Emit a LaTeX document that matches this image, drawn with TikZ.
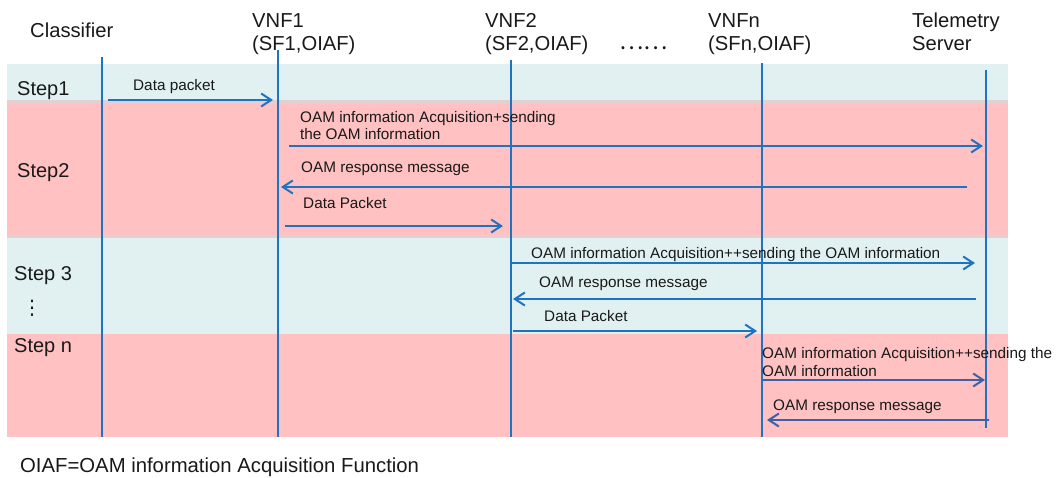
\documentclass[tikz,border=0pt]{standalone}
\usepackage{fontspec}
\setmainfont{Liberation Sans}
\newfontfamily\cjkfont{Noto Sans CJK SC}
\newfontfamily\symfont{DejaVu Sans}
\usetikzlibrary{arrows.meta}

\definecolor{bandcyan}{RGB}{225,241,242}
\definecolor{bandpink}{RGB}{255,193,193}
\definecolor{seam}{RGB}{226,208,210}
\definecolor{flow}{RGB}{30,115,195}
\definecolor{flowdark}{RGB}{62,96,166}
\definecolor{ink}{RGB}{25,25,25}

\begin{document}
\begin{tikzpicture}[x=1pt,y=-1pt,
  every node/.style={text=ink, inner sep=0pt, anchor=base west},
  hdr/.style={font=\fontsize{20.2}{24}\selectfont},
  steplbl/.style={font=\fontsize{20}{24}\selectfont},
  msg/.style={font=\fontsize{15.3}{18}\selectfont},
  lifeline/.style={draw=flow, line width=2pt},
  call/.style={draw=flow, line width=2pt, -{Straight Barb[length=10pt,width=13pt]}},
  calldark/.style={call, draw=flowdark},
]
\useasboundingbox (0,0) rectangle (1056,477);
\fill[white] (0,0) rectangle (1056,477);

% step bands
\fill[bandcyan] (7,64) rectangle (1008,101);
\fill[seam] (7,100) rectangle (1008,104);
\fill[bandpink] (7,104) rectangle (1008,235);
\fill[seam] (7,235) rectangle (1008,238);
\fill[bandcyan] (7,238) rectangle (1008,334);
\fill[bandpink] (7,334) rectangle (1008,437);

% participants
\node[hdr] (hclass) at (30,37) {Classifier};
\node[hdr] (hv1) at (252,27) {VNF1};
\node[hdr] (hv1sf) at (252,50) {(SF1,OIAF)};
\node[hdr] (hv2) at (485,27) {VNF2};
\node[hdr] (hv2sf) at (485,50) {(SF2,OIAF)};
\node[font=\cjkfont\fontsize{23}{26}\selectfont] (more) at (619,49) {……};
\node[hdr] (hvn) at (708,27) {VNFn};
\node[hdr] (hvnsf) at (708,50) {(SFn,OIAF)};
\node[hdr] (htel) at (912,27) {Telemetry};
\node[hdr] (htels) at (912,50) {Server};

% lifelines
\coordinate (cls-t) at (102,57);  \coordinate (cls-b) at (102,437);
\coordinate (v1-t)  at (278,50);  \coordinate (v1-b)  at (278,437);
\coordinate (v2-t)  at (511,60);  \coordinate (v2-b)  at (511,437);
\coordinate (vn-t)  at (762,63);  \coordinate (vn-b)  at (762,437);
\coordinate (tel-t) at (986,70);  \coordinate (tel-b) at (986,428);
\draw[lifeline] (cls-t) -- (cls-b);
\draw[lifeline] (v1-t) -- (v1-b);
\draw[lifeline] (v2-t) -- (v2-b);
\draw[lifeline] (vn-t) -- (vn-b);
\draw[lifeline] (tel-t) -- (tel-b);

% step labels
\node[steplbl] (s1) at (17,95) {Step1};
\node[steplbl] (s2) at (17,177) {Step2};
\node[steplbl] (s3) at (14,280) {Step 3};
\node[font=\symfont\fontsize{20}{24}\selectfont, anchor=center] (sdots) at (32,308) {⋮};
\node[steplbl] (sn) at (14,352) {Step n};

% step 1
\node[msg] (t1) at (133,90) {Data packet};
\coordinate (m1a) at (108,100); \coordinate (m1b) at (273,100);
\draw[call] (m1a) -- (m1b);

% step 2
\node[msg] (t2a) at (300,122) {OAM information Acquisition+sending};
\node[msg] (t2b) at (300,139) {the OAM information};
\coordinate (m2a) at (289,146); \coordinate (m2b) at (983,146);
\draw[call] (m2a) -- (m2b);
\node[msg] (t3) at (301,172) {OAM response message};
\coordinate (m3a) at (967,187); \coordinate (m3b) at (281,187);
\draw[call] (m3a) -- (m3b);
\node[msg] (t4) at (303,208) {Data Packet};
\coordinate (m4a) at (285,226); \coordinate (m4b) at (503,226);
\draw[call] (m4a) -- (m4b);

% step 3
\node[msg] (t5) at (531,258) {OAM information Acquisition++sending the OAM information};
\coordinate (m5a) at (511,263); \coordinate (m5b) at (975,263);
\draw[call] (m5a) -- (m5b);
\node[msg] (t6) at (539,287) {OAM response message};
\coordinate (m6a) at (976,299); \coordinate (m6b) at (513,299);
\draw[call] (m6a) -- (m6b);
\node[msg] (t7) at (544,321) {Data Packet};
\coordinate (m7a) at (513,331); \coordinate (m7b) at (757,331);
\draw[call] (m7a) -- (m7b);

% step n
\node[msg] (t8a) at (762,358) {OAM information Acquisition++sending the};
\node[msg] (t8b) at (762,376) {OAM information};
\coordinate (m8a) at (763,380); \coordinate (m8b) at (985,380);
\draw[calldark] (m8a) -- (m8b);
\node[msg] (t9) at (773,410) {OAM response message};
\coordinate (m9a) at (989,420); \coordinate (m9b) at (767,420);
\draw[calldark] (m9a) -- (m9b);

% legend
\node[font=\fontsize{20.3}{24}\selectfont] (note) at (20,472) {OIAF=OAM information Acquisition Function};
\end{tikzpicture}
\end{document}
